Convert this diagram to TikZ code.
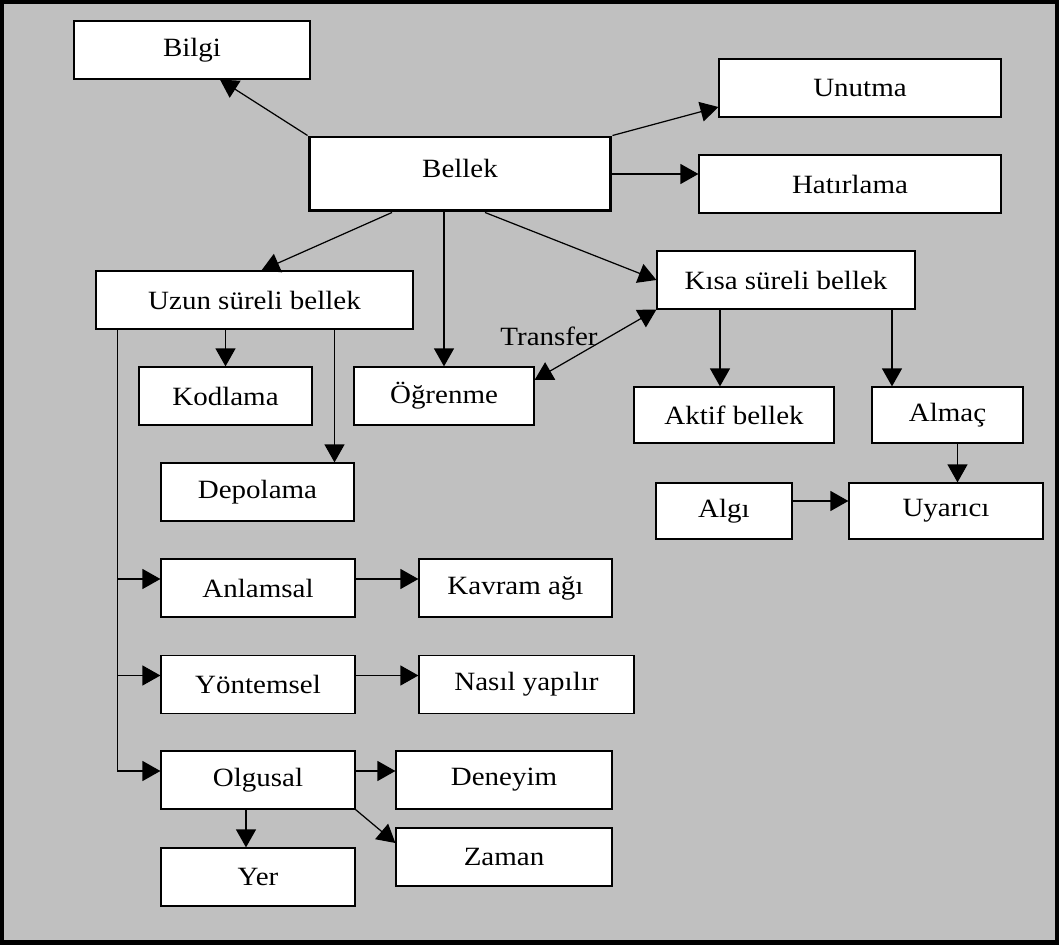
\documentclass[tikz,border=0pt]{standalone}
\usepackage{fontspec}
\setmainfont[FakeStretch=1.1]{Liberation Serif}
\usepackage{tikz}
\usetikzlibrary{arrows.meta,calc}
\definecolor{winGray}{HTML}{C0C0C0}

\begin{document}
\begin{tikzpicture}[x=0.02cm,y=-0.02cm,
    box/.style={draw,fill=white,line width=0.7pt,inner sep=0pt,minimum height=1.16cm,font=\fontsize{15}{17}\selectfont},
    arr/.style={line width=0.7pt,-{Triangle[length=0.36cm,width=0.4cm]}},
    dblarr/.style={line width=0.7pt,{Triangle[length=0.36cm,width=0.4cm]}-{Triangle[length=0.36cm,width=0.4cm]}}]
    % frame and background
    \fill[black] (0,0) rectangle (1059,945);
    \fill[winGray] (4,4) rectangle (1055,940);

    \node[box,minimum width=4.72cm] (bilgi) at (192,50) {Bilgi};
    \node[box,line width=1.7pt,minimum width=6.04cm,minimum height=1.48cm] (bellek) at (460,174) {\raisebox{6pt}{Bellek}};
    \node[box,minimum width=5.64cm] (unutma) at (860,88) {Unutma};
    \node[box,minimum width=6.04cm] (hatirlama) at (850,184) {Hatırlama};
    \node[box,minimum width=5.16cm] (kisa) at (786,280) {Kısa süreli bellek};
    \node[box,minimum width=6.34cm] (uzun) at (254.5,300) {Uzun süreli bellek};
    \node[box,minimum width=3.46cm] (kodlama) at (225.5,396) {Kodlama};
    \node[box,minimum width=3.6cm] (ogrenme) at (444,396) {Öğrenme};
    \node[box,minimum width=3.86cm] (depolama) at (257.5,492) {Depolama};
    \node[box,minimum width=4cm,minimum height=1.12cm] (aktif) at (734,415) {Aktif bellek};
    \node[box,minimum width=3.02cm,minimum height=1.12cm] (almac) at (947.5,415) {Almaç};
    \node[box,minimum width=2.72cm,minimum height=1.12cm] (algi) at (724,511) {Algı};
    \node[box,minimum width=3.88cm,minimum height=1.12cm] (uyarici) at (946,511) {Uyarıcı};
    \node[box,minimum width=3.88cm] (anlamsal) at (258,588) {Anlamsal};
    \node[box,minimum width=3.86cm] (kavram) at (515.5,588) {Kavram ağı};
    \node[box,minimum width=3.88cm] (yontemsel) at (258,684.5) {Yöntemsel};
    \node[box,minimum width=4.3cm] (nasil) at (526.5,684.5) {Nasıl yapılır};
    \node[box,minimum width=3.88cm] (olgusal) at (258,780) {Olgusal};
    \node[box,minimum width=4.32cm] (deneyim) at (504,780) {Deneyim};
    \node[box,minimum width=3.88cm] (yer) at (258,877) {Yer};
    \node[box,minimum width=4.32cm] (zaman) at (504,857) {Zaman};
    \node[font=\fontsize{15}{17}\selectfont] (transfer) at (549,336) {Transfer};

    % from Bellek
    \draw[arr] (bellek.north west) -- ($(bilgi.south)+(28,0)$);
    \draw[arr] (bellek.north east) -- ($(unutma.west)+(0,19)$);
    \draw[arr] (bellek.east) -- (bellek.east -| hatirlama.west);
    \draw[arr] ($(bellek.south)+(25,0)$) -- (kisa.west);
    \draw[arr] ($(bellek.south)+(-68,0)$) -- ($(uzun.north)+(7,0)$);
    \draw[arr] (bellek.south -| ogrenme.north) -- (ogrenme.north);

    % Uzun sureli bellek
    \draw[arr] (uzun.south -| kodlama.north) -- (kodlama.north);
    \coordinate (u1) at ($(uzun.south)+(80,0)$);
    \draw[arr] (u1) -- (u1 |- depolama.north);
    \coordinate (trunk) at ($(uzun.south west)+(22,0)$);
    \coordinate (t1) at ($(trunk |- anlamsal.west)+(0,-9)$);
    \coordinate (t2) at ($(trunk |- yontemsel.west)+(0,-9)$);
    \coordinate (t3) at ($(trunk |- olgusal.west)+(0,-9)$);
    \draw[line width=0.7pt] (trunk) -- (t3);
    \draw[arr] (t1) -- (t1 -| anlamsal.west);
    \draw[arr] (t2) -- (t2 -| yontemsel.west);
    \draw[arr] (t3) -- (t3 -| olgusal.west);
    \draw[arr] ($(anlamsal.east)+(0,-9)$) -- ($(kavram.west)+(0,-9)$);
    \draw[arr] ($(yontemsel.east)+(0,-9)$) -- ($(nasil.west)+(0,-9)$);
    \draw[arr] ($(olgusal.east)+(0,-9)$) -- ($(deneyim.west)+(0,-9)$);
    \draw[arr] ($(olgusal.south)+(-12,0)$) -- ($(yer.north)+(-12,0)$);
    \draw[arr] (olgusal.south east) -- ($(zaman.west)+(0,-14)$);

    % Kisa sureli bellek
    \draw[dblarr] ($(ogrenme.east)+(0,-16)$) -- (kisa.south west);
    \coordinate (k1) at ($(kisa.south)+(-66,0)$);
    \coordinate (k2) at ($(kisa.south)+(106,0)$);
    \draw[arr] (k1) -- (k1 |- aktif.north);
    \draw[arr] (k2) -- (k2 |- almac.north);
    \coordinate (a1) at ($(almac.south)+(10,0)$);
    \draw[arr] (a1) -- (a1 |- uyarici.north);
    \draw[arr] ($(algi.east)+(0,-10)$) -- ($(uyarici.west)+(0,-10)$);
\end{tikzpicture}
\end{document}
